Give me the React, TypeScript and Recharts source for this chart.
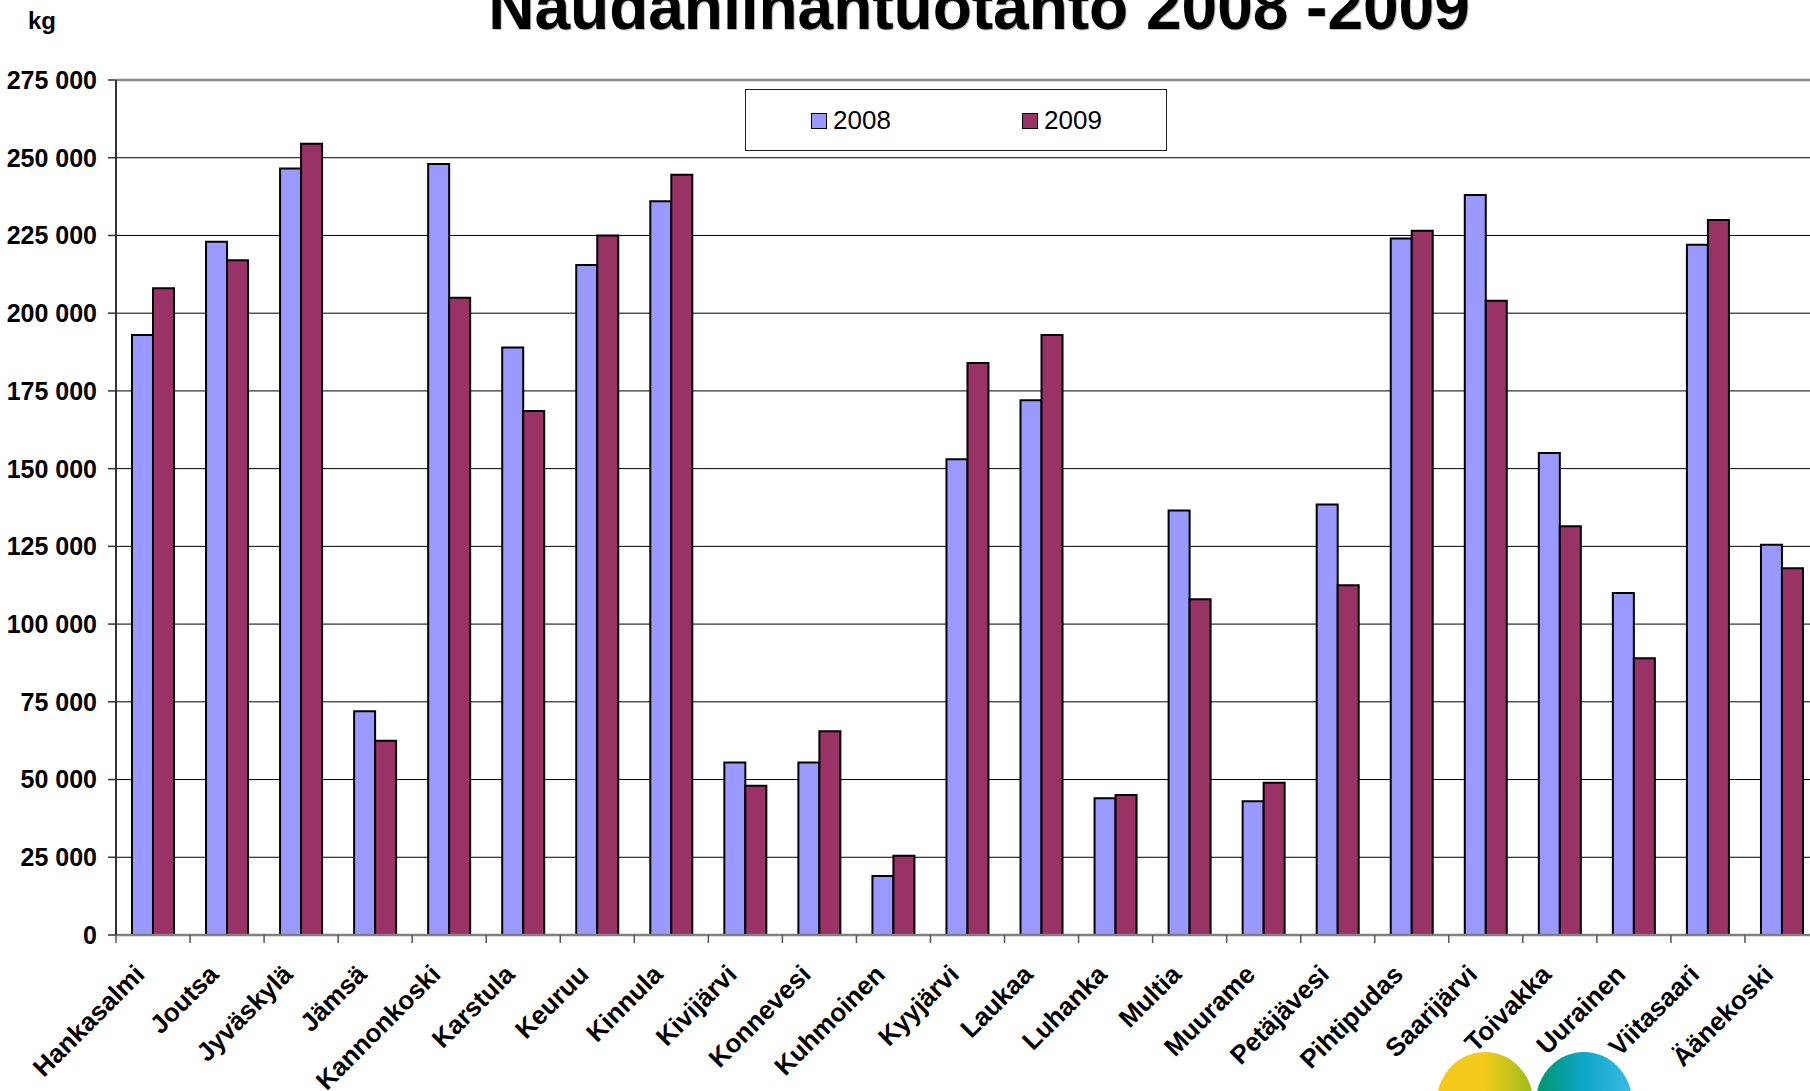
import { Bar, BarChart, CartesianGrid, Legend, ReferenceLine, XAxis, YAxis } from 'recharts';

const categories = [
  'Hankasalmi', 'Joutsa', 'Jyväskylä', 'Jämsä', 'Kannonkoski', 'Karstula', 'Keuruu',
  'Kinnula', 'Kivijärvi', 'Konnevesi', 'Kuhmoinen', 'Kyyjärvi', 'Laukaa', 'Luhanka',
  'Multia', 'Muurame', 'Petäjävesi', 'Pihtipudas', 'Saarijärvi', 'Toivakka', 'Uurainen',
  'Viitasaari', 'Äänekoski',
];
const values2008 = [
  193000, 223000, 246500, 72000, 248000, 189000, 215500, 236000, 55500, 55500, 19000,
  153000, 172000, 44000, 136500, 43000, 138500, 224000, 238000, 155000, 110000, 222000, 125500,
];
const values2009 = [
  208000, 217000, 254500, 62500, 205000, 168500, 225000, 244500, 48000, 65500, 25500,
  184000, 193000, 45000, 108000, 49000, 112500, 226500, 204000, 131500, 89000, 230000, 118000,
];
const yTicks = [0, 25000, 50000, 75000, 100000, 125000, 150000, 175000, 200000, 225000, 250000, 275000];

const data = categories.map((name, i) => ({ name, y2008: values2008[i], y2009: values2009[i] }));

const FONT = '"Liberation Sans", Arial, sans-serif';
const CHART_W = 1840;
const CHART_H = 1091;
const PLOT_TOP = 80;
const PLOT_LEFT = 116;
const PLOT_BOTTOM = 935;
const PLOT_RIGHT = 1819;
const BAND = (PLOT_RIGHT - PLOT_LEFT) / categories.length;

const fmt = (v: number) => String(v).replace(/\B(?=(\d{3})+(?!\d))/g, ' ');

function XTick(props: any) {
  const { x, payload } = props;
  const bx = x - BAND / 2;
  return (
    <g>
      <line x1={bx} x2={bx} y1={PLOT_BOTTOM} y2={PLOT_BOTTOM + 8} stroke="#555" strokeWidth={1.5} />
      <text
        transform={`translate(${x - 7},${PLOT_BOTTOM + 41}) rotate(-45)`}
        textAnchor="end"
        fontFamily={FONT}
        fontWeight="bold"
        fontSize={26}
        fill="#000"
      >
        {payload.value}
      </text>
    </g>
  );
}

function LegendBox(props: any) {
  const items = props.payload ?? [];
  const lefts = [65, 276];
  return (
    <div
      style={{
        position: 'relative',
        width: 422,
        height: 62,
        border: '1px solid #222',
        background: '#fff',
        boxSizing: 'border-box',
        fontFamily: FONT,
      }}
    >
      {items.map((p: any, i: number) => (
        <div
          key={p.value}
          style={{ position: 'absolute', left: lefts[i], top: 18, display: 'flex', alignItems: 'center', gap: 6, height: 25 }}
        >
          <span style={{ width: 14, height: 14, background: p.color, border: '1.5px solid #000', display: 'inline-block' }} />
          <span style={{ fontSize: 26, lineHeight: '25px', color: '#000' }}>{p.value}</span>
        </div>
      ))}
    </div>
  );
}

export default function App() {
  return (
    <div style={{ position: 'fixed', left: 0, top: 0, width: 1810, height: 1091, overflow: 'hidden', background: '#fff' }}>
      <svg width={1810} height={1091} style={{ position: 'absolute', left: 0, top: 0 }}>
        <defs>
          <linearGradient id="logoY" x1="0" x2="1" y1="0" y2="0">
            <stop offset="0" stopColor="#f6c81c" />
            <stop offset="0.5" stopColor="#f3c91a" />
            <stop offset="1" stopColor="#98bd1c" />
          </linearGradient>
          <linearGradient id="logoB" x1="0" x2="1" y1="0" y2="0">
            <stop offset="0" stopColor="#00966a" />
            <stop offset="0.5" stopColor="#0ea6c8" />
            <stop offset="1" stopColor="#3cbbe2" />
          </linearGradient>
        </defs>
        <ellipse cx={1485} cy={1102} rx={48} ry={50} fill="url(#logoY)" />
        <ellipse cx={1584} cy={1102} rx={48} ry={50} fill="url(#logoB)" />
        <text x={980} y={30} textAnchor="middle" fontFamily={FONT} fontWeight="bold" fontSize={64} fill="#bbb">
          Naudanlihantuotanto 2008 -2009
        </text>
        <text x={979} y={28.5} textAnchor="middle" fontFamily={FONT} fontWeight="bold" fontSize={64} fill="#000">
          Naudanlihantuotanto 2008 -2009
        </text>
        <text x={28} y={29} fontFamily={FONT} fontWeight="bold" fontSize={24} fill="#000">
          kg
        </text>
      </svg>
      <div style={{ position: 'absolute', left: 0, top: 0 }}>
        <BarChart
          width={CHART_W}
          height={CHART_H}
          data={data}
          margin={{ top: PLOT_TOP, right: CHART_W - PLOT_RIGHT, left: PLOT_LEFT - 100, bottom: 0 }}
          barCategoryGap="21.6%"
          barGap={0}
        >
          <CartesianGrid vertical={false} stroke="#000" strokeWidth={1} />
          <ReferenceLine y={275000} stroke="#8a8a8a" strokeWidth={2.5} />
          <XAxis
            dataKey="name"
            interval={0}
            height={CHART_H - PLOT_BOTTOM}
            tickLine={false}
            tick={<XTick />}
            axisLine={{ stroke: '#808080', strokeWidth: 2.5 }}
          />
          <YAxis
            width={100}
            domain={[0, 275000]}
            ticks={yTicks}
            tickFormatter={fmt}
            tickSize={8}
            tickMargin={11}
            tickLine={{ stroke: '#333', strokeWidth: 1.5 }}
            axisLine={{ stroke: '#333', strokeWidth: 2 }}
            tick={{ fontSize: 25, fontWeight: 'bold', fill: '#000', fontFamily: FONT }}
          />
          <Legend
            verticalAlign="middle"
            align="center"
            wrapperStyle={{ left: 745, top: 89, width: 422, height: 62 }}
            content={<LegendBox />}
          />
          <Bar dataKey="y2008" name="2008" fill="#9999ff" stroke="#000" strokeWidth={2} isAnimationActive={false} />
          <Bar dataKey="y2009" name="2009" fill="#993366" stroke="#000" strokeWidth={2} isAnimationActive={false} />
        </BarChart>
      </div>
    </div>
  );
}
